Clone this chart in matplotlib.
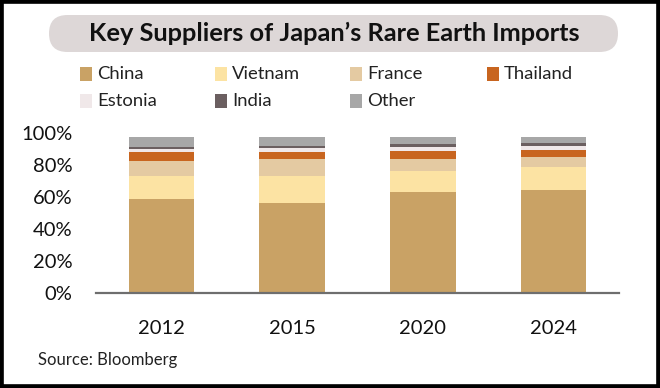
import numpy as np
import matplotlib
matplotlib.use("Agg")
import matplotlib.pyplot as plt
from matplotlib.patches import FancyBboxPatch, Rectangle

plt.rcParams['font.family'] = ['Lato', 'DejaVu Sans']

# data (share of imports, %)
years = ['2012', '2015', '2020', '2024']
suppliers = ['China', 'Vietnam', 'France', 'Thailand', 'Estonia', 'India', 'Other']
china = [58.8, 56.6, 63.5, 64.6]
vietnam = [14.8, 16.9, 13.1, 14.2]
france = [9.4, 10.4, 7.3, 6.6]
thailand = [5.4, 4.4, 5.2, 4.2]
estonia = [1.9, 2.7, 2.1, 2.5]
india = [1.1, 1.1, 2.1, 2.1]
other = [6.6, 5.8, 4.6, 3.8]
yticks = [0, 20, 40, 60, 80, 100]
colors = ['#C9A265', '#FCE3A3', '#E4CAA2', '#C8651F', '#F0E8E9', '#6B5F60', '#A7A7A7']

series = [china, vietnam, france, thailand, estonia, india, other]

W, H = 660, 388
fig = plt.figure(figsize=(W / 100, H / 100), dpi=100)
fig.patch.set_facecolor('white')

def fx(px):
    return px / W

def fy(py):
    # py measured from top
    return 1 - py / H

# border
fig.patches.append(Rectangle((0, 0), 1, 1, transform=fig.transFigure, fill=False,
                             lw=5.5, ec='black', zorder=10))

# title pill
pill = FancyBboxPatch((0.49, (H - 52) / 100), 5.69, 0.37,
                      boxstyle='round,pad=0,rounding_size=0.185',
                      transform=fig.dpi_scale_trans, fc='#DDD7D7', ec='none')
fig.patches.append(pill)
fig.text(fx(334), fy(33.5), 'Key Suppliers of Japan\u2019s Rare Earth Imports',
         ha='center', va='center', fontsize=18.3, fontweight='bold', color='#111111')

# legend
col_x = [80, 215, 350, 487]
row_y = [74, 101]
for i, (name, c) in enumerate(zip(suppliers, colors)):
    x0 = col_x[i % 4]
    y0 = row_y[i // 4]
    fig.patches.append(Rectangle((fx(x0), fy(y0 + 7)), 12 / W, 14 / H,
                                 transform=fig.transFigure, fc=c, ec='none'))
    fig.text(fx(x0 + 17), fy(y0), name, ha='left', va='center',
             fontsize=13.3, color='#222222')

# axes
ax = fig.add_axes([fx(96), 94.7 / H, 523 / W, 160 / H])
x = np.arange(len(years))
bottom = np.zeros(len(years))
for vals, c in zip(series, colors):
    ax.bar(x, vals, width=0.5, bottom=bottom, color=c, edgecolor='none')
    bottom += np.array(vals)

ax.set_xlim(-0.5, 3.5)
ax.set_ylim(0, 100)
ax.set_yticks(yticks)
ax.set_yticklabels([f'{t}%' for t in yticks])
ax.set_xticks(x)
ax.set_xticklabels(years)
ax.tick_params(axis='y', length=0, pad=17, labelsize=14.5, labelcolor='#111111')
ax.tick_params(axis='x', length=0, pad=19, labelsize=14.5, labelcolor='#111111')
for s in ['top', 'right', 'left']:
    ax.spines[s].set_visible(False)
ax.spines['bottom'].set_color('#6E6E6E')
ax.spines['bottom'].set_linewidth(1.6)
ax.set_facecolor('none')

fig.text(fx(38), fy(360), 'Source: Bloomberg', ha='left', va='center',
         fontsize=12, color='#222222')

fig.savefig('out.png', dpi=100)
